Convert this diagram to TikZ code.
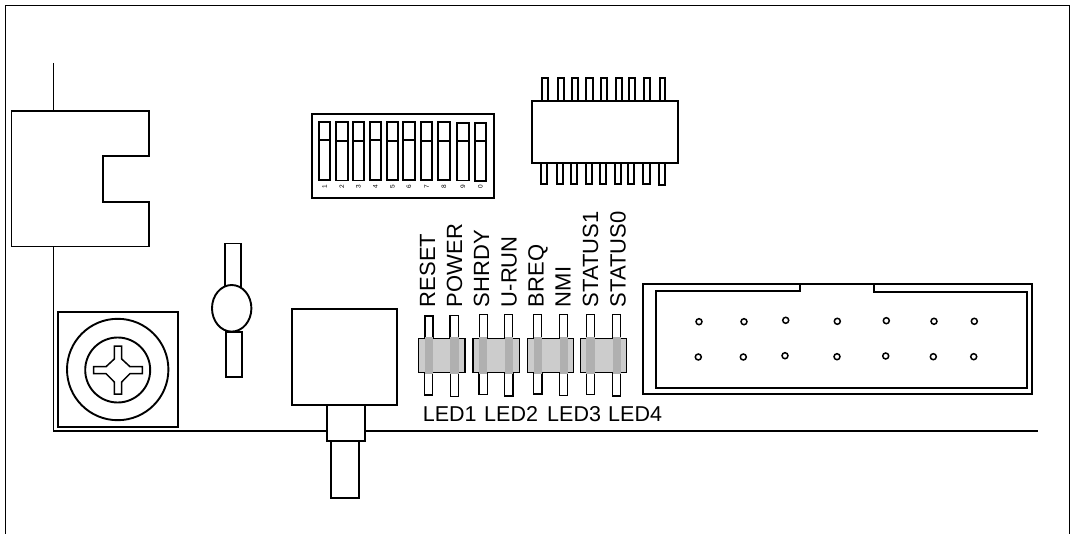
\documentclass[tikz,border=0pt]{standalone}
\usepackage{fontspec}
\setmainfont{Liberation Sans}
\tikzset{
  ln/.style={draw=black,line width=1.9pt,fill=white,line join=miter},
  frameline/.style={draw=black,line width=1.3pt},
  pinbox/.style={draw=black,line width=1.7pt,fill=white},
  ledbody/.style={draw=black,line width=1.1pt,fill=ledgray},
  band/.style={fill=bandgray,draw=none},
  ledlabel/.style={inner sep=0pt,anchor=base west,font=\fontsize{21.5}{23}\selectfont},
  sidelabel/.style={inner sep=0pt,anchor=base west,rotate=90,font=\fontsize{22}{24}\selectfont},
  diplabel/.style={inner sep=0pt,anchor=center,rotate=90,font=\fontsize{6.5}{7}\selectfont},
  hole/.style={draw=black,line width=1.5pt,fill=white}
}
\definecolor{ledgray}{gray}{0.8}
\definecolor{bandgray}{gray}{0.69}
\begin{document}
\begin{tikzpicture}[x=1pt,y=-1pt]
\useasboundingbox (0,0) rectangle (1075,534);
% frame
\draw[frameline] (5.5,534) -- (5.5,5.5) -- (1069.7,5.5) -- (1069.7,534);
% board edges
\draw[ln] (53.5,63) -- (53.5,431) -- (1038,431);
% latch
\draw[ln] (11.5,111) -- (149,111) -- (149,155.7) -- (102.7,155.7) -- (102.7,202) -- (149,202) -- (149,246.5) -- (11.5,246.5) -- cycle;
% screw
\draw[ln] (58.3,311.7) rectangle (177.7,427.3);
\draw[ln] (117.7,369.5) circle[radius=50.7];
\draw[ln] (117.7,370) circle[radius=32.5];
\draw[draw=black,line width=1.5pt,fill=white] (114.3,346) -- (121.7,346) -- (121.7,359) -- (130,366.7) -- (142.3,366.7) -- (142.3,373.6) -- (130,373.6) -- (121.7,382) -- (121.7,394) -- (114.3,394) -- (114.3,382) -- (106,373.6) -- (93.7,373.6) -- (93.7,366.7) -- (106,366.7) -- (114.3,359) -- cycle;
% potentiometer
\draw[ln] (225,243.5) rectangle (241.3,290);
\draw[ln] (225.7,332) rectangle (241.7,377);
\draw[ln] (231.7,308.3) ellipse[x radius=19.7,y radius=23.3];
% button
\draw[ln] (292.3,309) rectangle (396.7,405);
\draw[ln] (327,405) rectangle (364.7,441);
\draw[ln] (331.3,441) rectangle (359,498);
% DIP switch
\draw[ln] (311.7,113.7) rectangle (494.3,198);
\foreach \a/\b/\t/\d/\e/\n in {
  319/330.3/121.7/140/180/1,
  336/347.7/122.3/140.7/180.5/2,
  352.7/364/122.3/140.7/180.5/3,
  369.7/381/122/140.3/180/4,
  386.7/398/122.3/140.7/180/5,
  403.3/414.7/122/140.3/180/6,
  421/432.3/122.3/140.7/180/7,
  438.3/449.7/122.3/140.7/180/8,
  457.3/468.7/122.7/141/180.5/9,
  474.7/486/123/141.3/180.7/0}{
  \draw[pinbox] (\a,\t) rectangle (\b,\e);
  \draw[line width=1.7pt] (\a,\d) -- (\b,\d);
  \node[diplabel] (dip\n) at ({(\a+\b)/2},187) {\n};
}
% IC
\foreach \a/\b in {542/548,557.7/563.7,572/578,586.3/592.7,601.3/607.3,615.7/621.7,629/635,644/650,659.7/665.3}{
  \draw[pinbox] (\a,78) rectangle (\b,101.3);
}
\foreach \a/\b/\e in {541/547/184,556.7/563/184,571.3/577.3/184,586/592/184,600.3/606.3/184,615/621/184,628/634.3/184,643.3/649.7/184,658.7/665/185}{
  \draw[pinbox] (\a,163) rectangle (\b,\e);
}
\draw[ln] (531.7,101.3) rectangle (678,163);
% LEDs
\foreach \a/\t/\b/\e in {425/316/433/338.7, 450/315.3/458.7/338.7, 479.3/314.7/487.3/338.7, 504.3/314.7/512.7/338.7, 533.7/314.7/541.7/338.7, 559.3/314.7/567.7/338.7, 586.3/314.7/594.7/338.7, 612.3/314.7/620.7/338.7}{
  \draw[draw=black,line width=1.1pt,fill=white] (\a,\t) rectangle (\b,\e);
}
\foreach \a/\b/\e in {424.7/432.7/395, 450.3/458.7/396.7, 479/487.3/394.3, 504.7/513/396, 533.7/542/394, 559.7/567.7/395.7, 586.3/594.7/394.3, 612.7/620.7/396}{
  \draw[draw=black,line width=1.1pt,fill=white] (\a,372.3) rectangle (\b,\e);
}
\foreach \a/\b in {418.3/465, 473/519.3, 527.3/573.7, 580.3/626.7}{
  \draw[ledbody] (\a,338.7) rectangle (\b,372.3);
}
\foreach \a/\b in {424.7/433, 450/458.7, 479/487.3, 504.5/513, 533.7/542, 559.5/567.7, 586.3/594.7, 612.5/620.7}{
  \fill[band] (\a,337) rectangle (\b,373.5);
}
% LED labels
\node[ledlabel] (l1) at (422.7,421) {LED1};
\node[ledlabel] (l2) at (484,421) {LED2};
\node[ledlabel] (l3) at (547,421) {LED3};
\node[ledlabel] (l4) at (608,421) {LED4};
\node[sidelabel] (s1) at (435,307.3) {RESET};
\node[sidelabel] (s2) at (462,307.3) {POWER};
\node[sidelabel] (s3) at (489,307.3) {SHRDY};
\node[sidelabel] (s4) at (516.5,307.3) {U-RUN};
\node[sidelabel] (s5) at (543.7,307.3) {BREQ};
\node[sidelabel] (s6) at (570.7,307.3) {NMI};
\node[sidelabel] (s7) at (598,307.3) {STATUS1};
\node[sidelabel] (s8) at (625.7,307.3) {STATUS0};
% header
\draw[ln] (643.3,284) rectangle (1032.3,394);
\draw[ln] (655.7,388) -- (655.7,290.7) -- (800,290.7) -- (800,284) -- (874,284) -- (874,291.7) -- (1027.3,291.7) -- (1027.3,388) -- cycle;
\foreach \x/\y in {699/321.7,744/321.7,785.7/320.3,837.3/321.3,886.3/320.7,934/321.3,974.3/321.3,
                   698.3/357,743.3/357,785/355.7,837/356.7,885.7/356,933.3/356.7,973.7/356.7}{
  \draw[hole] (\x,\y) circle[radius=3];
}
\end{tikzpicture}
\end{document}
